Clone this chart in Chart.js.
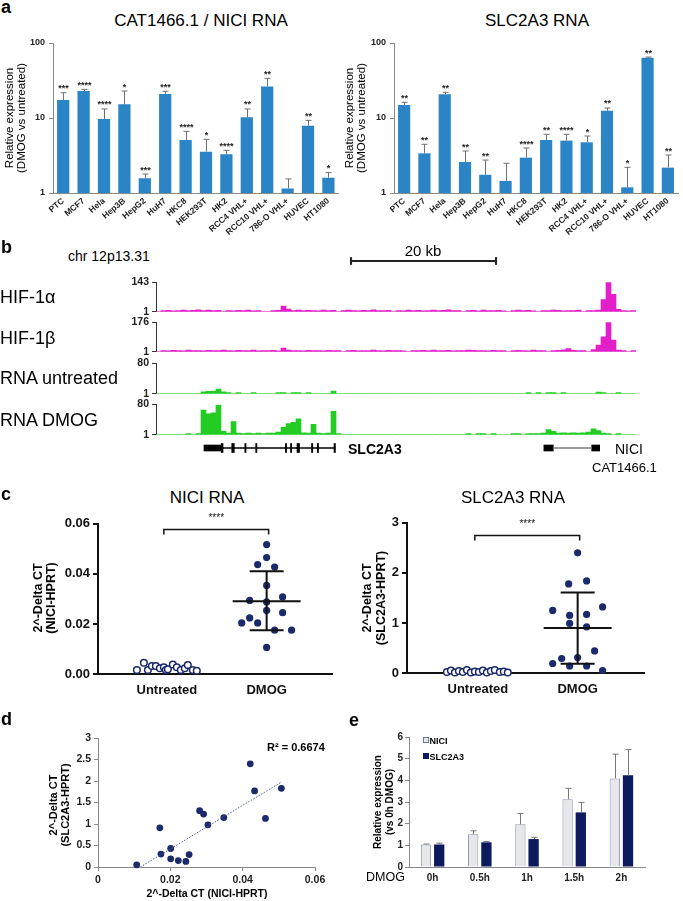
<!DOCTYPE html>
<html><head><meta charset="utf-8"><title>Figure</title>
<script src="https://cdn.jsdelivr.net/npm/chart.js@4.4.1/dist/chart.umd.min.js"></script>
<style>
html,body{margin:0;padding:0;background:#fff;}
#root{position:relative;width:683px;height:901px;overflow:hidden;font-family:'Liberation Sans',Arial,Helvetica,sans-serif;color:#000;}
.t{position:absolute;white-space:nowrap;line-height:1;}
canvas{position:absolute;}
</style></head>
<body><div id="root"></div>
<script>
// ================= DATA =================
// Panel a
const cellLines = ['PTC','MCF7','Hela','Hep3B','HepG2','HuH7','HKC8','HEK293T','HK2','RCC4 VHL+','RCC10 VHL+','786-O VHL+','HUVEC','HT1080'];
const niciFold    = [17.4,22.9,9.7,15.2,1.57,20.9,5.1,3.56,3.28,10.2,26.4,1.15,7.9,1.6];
const niciFoldErr = [21.7,24.1,13.2,22.9,1.79,22.7,6.64,5.2,3.7,13.2,33.8,1.54,9.3,1.87];
const niciSig     = ['***','****','****','*','***','***','****','*','****','**','**','','**','*'];
const slcFold     = [14.9,3.38,20.7,2.59,1.75,1.45,2.96,5.09,4.99,4.74,12.5,1.19,63.7,2.18];
const slcFoldErr  = [16.2,4.46,22.0,3.63,2.75,2.49,3.98,6.06,6.06,5.75,13.6,2.2,65,3.21];
const slcSig      = ['**','**','**','**','**','','****','**','****','*','**','*','**','**'];
const foldTicks   = [1,10,100];

// Panel b (coverage per genomic bin, baseline value = 1)
const hif1a = [1, 6,8,5,7,9,6,8,10,7,9,6,8, 1, 7,5,8,6,9,5,7, 1,1, 6,8,28,14,7,9,6,8,7,5,9,6,8, 1, 6,9,7,5,8,6,10,7,6,8, 1, 7,5,9,6,8,5,7,9,6,8,10,6,7, 1, 6,8,5,9,7,6,8,5, 1, 7,9,6,8,5,1,7,6,9,8,5,7,6,9, 1, 6,7,9,60,143,85,12,6,5,7];
const hif1b = [1, 7,6,9,8,6,10,7,8,6,9,7,8,10,7,6,9,8,7,10,6,8,7,9,6,22,10,7,8,6,9,7,8,6,9,7,8, 1, 7,9,6,8,7,10,8,6,9,7,8,6, 1, 8,7,9,6,10,8,7,9,6,8,7,10,9,7,8,6,9,7,8, 1, 7,9,8,6,10,7,8, 1, 8,9,12,20,9,8,7, 1, 14,40,90,176,70,10,7, 1, 8];
const rnaUntreated = [
1,1,1,1,1,1,1,1,1,
6,7,8,13,6,
4,1,4,1,1,4,1,1,1,1,
4,4,1,4,4,1,4,1,1,1,
1,8,
1,1,1,1,1,1,1,1,1,1,
1,1,1,1,1,1,1,1,1,1,
1,1,1,1,1,1,1,1,1,1,
1,1,1,1,1,1,1,1,
4,1,4,1,4,4,1,4,
1,1,1,1,1,1,
5,4,1,1,4,1,1,1];
const rnaDmog = [
1,1,1,1,1,1,
4,1,4,
65,55,58,78,10,
5,35,5,4,5,4,5,4,5,5,
8,20,30,33,42,6,5,28,5,4,
5,62,
4,1,1,1,1,1,1,1,1,1,
1,1,1,1,1,1,1,1,1,1,
1,1,1,1,1,1,
4,1,4,4,1,4,
1,1,1,
4,4,1,4,4,4,5,14,10,5,
6,5,6,5,6,8,16,12,5,4,
1,4,1,1,1];
const trackMax = [143,176,80,80];
const trackSpanKb = 66.21;
const scaleBarKb = [26.9, 46.9];
const slc2a3Utr = [6.62, 9.10];
const slc2a3Intron = [9.10, 24.7];
const slc2a3Exons = [[9.0,9.25],[10.45,10.8],[12.25,12.42],[13.75,13.92],[17.85,18.02],[18.55,18.72],[19.45,19.8],[21.45,21.62],[22.25,22.42],[24.55,24.75]];
const niciIntron = [54.8, 60.1];
const niciExons = [[53.5,54.8],[60.1,61.2]];

// Panel c
const groups = ['Untreated','DMOG'];
const niciUntrX = [-0.30,-0.23,-0.19,-0.15,-0.11,-0.07,-0.03,-0.01,0.01,0.06,0.10,0.14,0.18,0.21,0.26,0.30];
const niciUntrY = [0.0016,0.0045,0.0016,0.0032,0.0032,0.0023,0.0027,0.0016,0.0019,0.0038,0.0027,0.0016,0.0023,0.0036,0.0016,0.0013];
const niciDmogX = [0,0,-0.09,0.08,0,-0.17,0,0.16,0,0.16,-0.25,-0.17,-0.09,0.08,0.25,0];
const niciDmogY = [0.0517,0.0465,0.0437,0.0427,0.0354,0.0294,0.0288,0.0308,0.0254,0.0245,0.0204,0.0224,0.0204,0.0175,0.0175,0.0106];
const niciDmogMeanSd = [0.0291, 0.0175, 0.0410];
const slcUntrX = [-0.31,-0.27,-0.23,-0.19,-0.15,-0.11,-0.07,-0.03,0.01,0.05,0.09,0.13,0.17,0.22,0.26,0.30];
const slcUntrY = [0.02,0.05,0.01,0.04,0.02,0.06,0.01,0.03,0.02,0.05,0.01,0.04,0.06,0.02,0.03,0.01];
const slcDmogX = [0,-0.09,0.09,-0.25,-0.08,0.09,0.25,-0.08,0.09,0.17,-0.25,-0.16,0,-0.08,0.09,0.25];
const slcDmogY = [2.40,1.78,1.84,1.25,1.15,1.17,1.32,0.99,0.92,0.44,0.19,0.29,0.31,0.14,0.14,0.05];
const slcDmogMeanSd = [0.90, 0.185, 1.61];

// Panel d
const corrNici = [0.0107,0.0171,0.0174,0.0201,0.0201,0.0222,0.0243,0.0252,0.0281,0.0292,0.0304,0.0348,0.0421,0.0433,0.0463,0.0507];
const corrSlc  = [0.05,0.91,0.30,0.43,0.19,0.15,0.13,0.29,1.31,1.23,0.98,1.15,2.40,1.77,1.13,1.83];
const trendLine = [{x:0.0117,y:0},{x:0.0508,y:1.98}];

// Panel e
const timePoints = ['0h','0.5h','1h','1.5h','2h'];
const niciTime    = [1.04,1.51,1.97,3.13,4.09];
const niciTimeErr = [1.06,1.67,2.47,3.63,5.21];
const slcTime     = [1.04,1.14,1.29,2.52,4.23];
const slcTimeErr  = [1.10,1.18,1.37,2.98,5.42];

// ================= HELPERS =================
const F = "'Liberation Sans', Arial, Helvetica, sans-serif";
Chart.defaults.font.family = F;
Chart.defaults.color = '#222';
const root = document.getElementById('root');
const BLUE = '#2a84c5', NAVY = '#1b2a6b', MAG = '#e21fc8', GRN = '#22cc22';

function mk(area, cfg, p) {
  const yW = p.yW || 0, xH = p.xH || 0, t = p.t ?? 10, r = p.r ?? 6, b = p.b ?? 0;
  const left = Math.round(area[0] - yW), top = Math.round(area[1] - t);
  const w = Math.round(area[2] + r - left), h = Math.round(area[3] + xH + b - top);
  const cv = document.createElement('canvas');
  cv.width = w; cv.height = h;
  cv.style.left = left + 'px'; cv.style.top = top + 'px';
  cv.style.width = w + 'px'; cv.style.height = h + 'px';
  root.appendChild(cv);
  const o = cfg.options = cfg.options || {};
  o.responsive = false; o.maintainAspectRatio = false; o.animation = false; o.devicePixelRatio = 1;
  o.layout = {padding: {left: area[0] - yW - left, top: area[1] - top, right: w - (area[2] - left), bottom: h - (area[3] - top) - xH}};
  o.plugins = Object.assign({legend: {display: false}, tooltip: {enabled: false}}, o.plugins || {});
  const sc = o.scales || {};
  if (yW && sc.y) sc.y.afterFit = s => { s.width = yW; };
  if (xH && sc.x) sc.x.afterFit = s => { s.height = xH; };
  return new Chart(cv, cfg);
}

function T(s, x, y, o = {}) {
  const d = document.createElement('div');
  d.className = 't';
  d.textContent = s;
  d.style.fontSize = (o.size || 12) + 'px';
  d.style.fontWeight = o.bold ? 'bold' : 'normal';
  d.style.left = x + 'px'; d.style.top = y + 'px';
  d.style.color = o.color || '#000';
  const ax = o.align === 'center' ? '-50%' : o.align === 'right' ? '-100%' : '0';
  d.style.transform = `translate(${ax},-50%)` + (o.rot ? ` rotate(${o.rot}deg)` : '');
  root.appendChild(d);
}
function sq(x, y, s, bg, bd) {
  const d = document.createElement('div');
  d.style.cssText = `position:absolute;left:${x}px;top:${y}px;width:${s}px;height:${s}px;background:${bg};box-sizing:border-box;border:1px solid ${bd}`;
  root.appendChild(d);
}

// ================= PANEL A =================
function foldErrPlugin(errs, sig) {
  return {id: 'foldErr', afterDatasetsDraw(ch) {
    const ctx = ch.ctx, y = ch.scales.y, meta = ch.getDatasetMeta(0);
    ctx.save();
    ctx.strokeStyle = '#707070'; ctx.lineWidth = 1;
    ctx.fillStyle = '#222'; ctx.font = 'bold 9px ' + F; ctx.textAlign = 'center'; ctx.textBaseline = 'alphabetic';
    meta.data.forEach((bar, i) => {
      const x = Math.round(bar.x) + 0.5, yt = y.getPixelForValue(errs[i]);
      ctx.beginPath(); ctx.moveTo(x, bar.y); ctx.lineTo(x, yt); ctx.moveTo(x - 3, yt); ctx.lineTo(x + 3, yt); ctx.stroke();
      if (sig[i]) ctx.fillText(sig[i], x, yt - 1.5);
    });
    ctx.restore();
  }};
}
function foldChart(area, yW, vals, errs, sig) {
  return mk(area, {
    type: 'bar',
    data: {labels: cellLines, datasets: [{data: vals, backgroundColor: BLUE, barPercentage: 0.6, categoryPercentage: 1, borderWidth: 0}]},
    options: {scales: {
      x: {grid: {display: false, drawTicks: false}, border: {color: '#8a8a8a'},
          ticks: {autoSkip: false, minRotation: 40, maxRotation: 40, padding: 3, color: '#222', font: {size: 8.5, weight: 'bold'}}},
      y: {type: 'logarithmic', min: 1, max: 100,
          afterBuildTicks: s => { s.ticks = foldTicks.map(v => ({value: v})); },
          ticks: {callback: v => String(v), padding: 4, color: '#222', font: {size: 9, weight: 'bold'}},
          grid: {display: true, drawOnChartArea: false, drawTicks: true, tickLength: 4, color: '#8a8a8a'},
          border: {color: '#8a8a8a'}}
    }},
    plugins: [foldErrPlugin(errs, sig)]
  }, {yW, xH: 50, t: 10, r: 4});
}
foldChart([53, 43, 338.6, 193], 45, niciFold, niciFoldErr, niciSig);
foldChart([394, 43, 678, 193], 40, slcFold, slcFoldErr, slcSig);

// ================= PANEL B =================
function trackChart(area, vals, max, color) {
  return mk(area, {
    type: 'bar',
    data: {labels: vals.map((_, i) => i), datasets: [{data: vals, backgroundColor: color, barPercentage: 1, categoryPercentage: 1, borderWidth: 0}]},
    options: {scales: {
      x: {display: false},
      y: {min: 1, max: max,
          afterBuildTicks: s => { s.ticks = [{value: 1}, {value: max}]; },
          ticks: {callback: v => String(v), padding: 3, color: '#222', font: {size: 10.5, weight: 'bold'}},
          grid: {display: true, drawOnChartArea: false, tickLength: 4, color: '#333'},
          border: {color: '#333'}}
    }}
  }, {yW: 40, xH: 0, t: 8, r: 4, b: 8});
}
trackChart([156, 281, 636, 313], hif1a, trackMax[0], MAG);
trackChart([156, 321, 636, 353], hif1b, trackMax[1], MAG);
trackChart([156, 362, 636, 395], rnaUntreated, trackMax[2], GRN);
trackChart([156, 403, 636, 436], rnaDmog, trackMax[3], GRN);

// scale bar
mk([156, 254, 636, 268], {
  type: 'bar',
  data: {labels: ['s'], datasets: [
    {data: [{y: 's', x: scaleBarKb}], barThickness: 1.5, backgroundColor: '#222', grouped: false},
    {data: scaleBarKb.map(k => ({y: 's', x: [k - 0.1, k + 0.1]})), barThickness: 7, backgroundColor: '#222', grouped: false}
  ]},
  options: {indexAxis: 'y', scales: {x: {type: 'linear', min: 0, max: trackSpanKb, display: false}, y: {display: false}}}
}, {t: 0, r: 0, b: 0});

// gene models
mk([156, 440, 636, 456], {
  type: 'bar',
  data: {labels: ['g'], datasets: [
    {data: [{y: 'g', x: slc2a3Intron}], barThickness: 1, backgroundColor: '#000', grouped: false},
    {data: [{y: 'g', x: niciIntron}], barThickness: 1, backgroundColor: '#7a7a7a', grouped: false},
    {data: [{y: 'g', x: slc2a3Utr}], barThickness: 6, backgroundColor: '#000', grouped: false},
    {data: slc2a3Exons.map(e => ({y: 'g', x: e})), barThickness: 9, backgroundColor: '#000', grouped: false},
    {data: niciExons.map(e => ({y: 'g', x: e})), barThickness: 6, backgroundColor: '#000', grouped: false}
  ]},
  options: {indexAxis: 'y', scales: {x: {type: 'linear', min: 0, max: trackSpanKb, display: false}, y: {display: false}}}
}, {t: 0, r: 0, b: 0});

// ================= PANEL C =================
function meanSdPlugin(stats, brY) {
  return {id: 'msd', afterDatasetsDraw(ch) {
    const ctx = ch.ctx, x = ch.scales.x, y = ch.scales.y;
    const cx = x.getPixelForValue(2);
    const m = y.getPixelForValue(stats[0]), lo = y.getPixelForValue(stats[1]), hi = y.getPixelForValue(stats[2]);
    ctx.save();
    ctx.strokeStyle = '#111'; ctx.lineWidth = 2;
    ctx.beginPath();
    ctx.moveTo(cx, lo); ctx.lineTo(cx, hi);
    ctx.moveTo(cx - 34, m); ctx.lineTo(cx + 34, m);
    ctx.moveTo(cx - 17, lo); ctx.lineTo(cx + 17, lo);
    ctx.moveTo(cx - 17, hi); ctx.lineTo(cx + 17, hi);
    ctx.stroke();
    const x1 = x.getPixelForValue(1) - 3, x2 = cx + 2, by = Math.round(y.getPixelForValue(brY)) + 0.5;
    ctx.lineWidth = 1.5;
    ctx.beginPath(); ctx.moveTo(x1, by + 5); ctx.lineTo(x1, by); ctx.lineTo(x2, by); ctx.lineTo(x2, by + 5); ctx.stroke();
    ctx.fillStyle = '#111'; ctx.font = '10px ' + F; ctx.textAlign = 'center'; ctx.textBaseline = 'alphabetic';
    ctx.fillText('****', (x1 + x2) / 2, by - 9);
    ctx.restore();
  }};
}
function dotChart(area, yW, xr, yMax, yStep, yFmt, ux, uy, dx, dy, stats, brY) {
  return mk(area, {
    type: 'scatter',
    data: {datasets: [
      {data: ux.map((o, i) => ({x: 1 + o, y: uy[i]})), pointRadius: 3.3, pointBackgroundColor: '#fff', pointBorderColor: NAVY, pointBorderWidth: 1.5, clip: false},
      {data: dx.map((o, i) => ({x: 2 + o, y: dy[i]})), pointRadius: 3.6, pointBackgroundColor: NAVY, pointBorderColor: NAVY, pointBorderWidth: 0, clip: false}
    ]},
    options: {scales: {
      x: {type: 'linear', min: xr[0], max: xr[1],
          afterBuildTicks: s => { s.ticks = groups.map((g, i) => ({value: i + 1})); },
          ticks: {callback: v => groups[Math.round(v) - 1], padding: 9, color: '#111', font: {size: 13, weight: 'bold'}},
          grid: {display: false, drawTicks: false}, border: {color: '#111', width: 2}},
      y: {min: 0, max: yMax,
          ticks: {stepSize: yStep, callback: yFmt, padding: 3, color: '#111', font: {size: 13, weight: 'bold'}},
          grid: {display: true, drawOnChartArea: false, tickLength: 5, color: '#111', lineWidth: 2},
          border: {color: '#111', width: 2}}
    }},
    plugins: [meanSdPlugin(stats, brY)]
  }, {yW, xH: 30, t: 10, r: 5});
}
dotChart([98, 523, 333, 674], 60, [0.31, 2.66], 0.06, 0.02, v => v.toFixed(2),
         niciUntrX, niciUntrY, niciDmogX, niciDmogY, niciDmogMeanSd, 0.058);
dotChart([407, 522, 645, 673], 40, [0.29, 2.67], 3, 1, v => String(Math.round(v)),
         slcUntrX, slcUntrY, slcDmogX, slcDmogY, slcDmogMeanSd, 2.76);

// ================= PANEL D =================
mk([98, 738, 315, 867], {
  type: 'scatter',
  data: {datasets: [
    {type: 'line', data: trendLine, borderColor: '#4b5c9c', borderWidth: 1, borderDash: [1.5, 1.5], pointRadius: 0, fill: false},
    {data: corrNici.map((x, i) => ({x: x, y: corrSlc[i]})), pointRadius: 3.4, pointBackgroundColor: NAVY, pointBorderColor: NAVY, pointBorderWidth: 0, clip: false}
  ]},
  options: {scales: {
    x: {type: 'linear', min: 0, max: 0.06,
        ticks: {stepSize: 0.02, callback: v => (Math.abs(v) < 1e-9 ? '0' : v.toFixed(2)), padding: 3, color: '#222', font: {size: 10.5, weight: 'bold'}},
        grid: {display: true, drawOnChartArea: false, tickLength: 4, color: '#888'}, border: {color: '#888'}},
    y: {min: 0, max: 3,
        ticks: {stepSize: 0.5, callback: v => String(Math.round(v * 10) / 10), padding: 3, color: '#222', font: {size: 10.5, weight: 'bold'}},
        grid: {display: true, drawOnChartArea: false, tickLength: 4, color: '#888'}, border: {color: '#888'}}
  }}
}, {yW: 40, xH: 22, t: 10, r: 16});

// ================= PANEL E =================
function timeErrPlugin(errSets) {
  return {id: 'timeErr', afterDatasetsDraw(ch) {
    const ctx = ch.ctx, y = ch.scales.y;
    ctx.save(); ctx.strokeStyle = '#777'; ctx.lineWidth = 1;
    errSets.forEach((errs, d) => {
      ch.getDatasetMeta(d).data.forEach((bar, i) => {
        const x = Math.round(bar.x) + 0.5, yt = y.getPixelForValue(errs[i]);
        ctx.beginPath(); ctx.moveTo(x, bar.y); ctx.lineTo(x, yt); ctx.moveTo(x - 3, yt); ctx.lineTo(x + 3, yt); ctx.stroke();
      });
    });
    ctx.restore();
  }};
}
mk([409, 737, 645, 867], {
  type: 'bar',
  data: {labels: timePoints, datasets: [
    {data: niciTime, backgroundColor: '#e6e7eb', borderColor: '#8e95aa', borderWidth: 1, categoryPercentage: 0.56, barPercentage: 0.78},
    {data: slcTime, backgroundColor: '#0c1b5d', borderWidth: 0, categoryPercentage: 0.56, barPercentage: 0.78}
  ]},
  options: {scales: {
    x: {grid: {display: false, drawTicks: false}, border: {color: '#888'},
        ticks: {padding: 5, color: '#222', font: {size: 10, weight: 'bold'}}},
    y: {min: 0, max: 6,
        ticks: {stepSize: 1, padding: 2, color: '#222', font: {size: 10, weight: 'bold'}},
        grid: {display: true, drawOnChartArea: false, tickLength: 4, color: '#888'}, border: {color: '#888'}}
  }},
  plugins: [timeErrPlugin([niciTimeErr, slcTimeErr])]
}, {yW: 25, xH: 20, t: 10, r: 5});

// ================= TEXT =================
T('a', 1, 6.6, {size: 18, bold: 1});
T('CAT1466.1 / NICI RNA', 201, 20, {size: 17, align: 'center'});
T('SLC2A3 RNA', 537, 20, {size: 17, align: 'center'});
T('Relative expression', 10, 118, {size: 11.5, align: 'center', rot: -90});
T('(DMOG vs untreated)', 22, 118, {size: 11.5, align: 'center', rot: -90});
T('Relative expression', 350, 118, {size: 11.5, align: 'center', rot: -90});
T('(DMOG vs untreated)', 362, 118, {size: 11.5, align: 'center', rot: -90});

T('b', 1, 246.5, {size: 18, bold: 1});
T('chr 12p13.31', 68, 256, {size: 14});
T('20 kb', 423, 250, {size: 15, align: 'center'});
T('HIF-1α', 0, 297, {size: 18});
T('HIF-1β', 0, 338, {size: 18});
T('RNA untreated', 0, 378, {size: 18});
T('RNA DMOG', 0, 420, {size: 18});
T('SLC2A3', 348, 449, {size: 14, bold: 1});
T('NICI', 615, 449, {size: 14});
T('CAT1466.1', 592, 467, {size: 13});

T('c', 1, 493.6, {size: 18, bold: 1});
T('NICI RNA', 207, 497, {size: 17, align: 'center'});
T('SLC2A3 RNA', 513, 497, {size: 17, align: 'center'});
T('2^-Delta CT', 38, 598, {size: 12.5, bold: 1, align: 'center', rot: -90});
T('(NICI-HPRT)', 51, 598, {size: 12.5, bold: 1, align: 'center', rot: -90});
T('2^-Delta CT', 367, 598, {size: 12.5, bold: 1, align: 'center', rot: -90});
T('(SLC2A3-HPRT)', 381, 598, {size: 12.5, bold: 1, align: 'center', rot: -90});

T('d', 1, 718.5, {size: 18, bold: 1});
T('R² = 0.6674', 267, 747, {size: 11, bold: 1});
T('2^-Delta CT', 53, 805, {size: 11, bold: 1, align: 'center', rot: -90});
T('(SLC2A3-HPRT)', 65, 805, {size: 11, bold: 1, align: 'center', rot: -90});
T('2^-Delta CT (NICI-HPRT)', 207, 893, {size: 10.5, bold: 1, align: 'center'});

T('e', 349, 719.6, {size: 18, bold: 1});
sq(423, 737, 6, '#e6e7eb', '#6f7894');
sq(423, 753, 6, '#0c1b5d', '#0c1b5d');
T('NICI', 429.5, 740.5, {size: 9, bold: 1});
T('SLC2A3', 429.5, 756.5, {size: 9, bold: 1});
T('Relative expression', 378, 802, {size: 10, bold: 1, align: 'center', rot: -90});
T('(vs 0h DMOG)', 390, 802, {size: 10, bold: 1, align: 'center', rot: -90});
T('DMOG', 366, 877, {size: 12.5});
</script>
</body></html>
